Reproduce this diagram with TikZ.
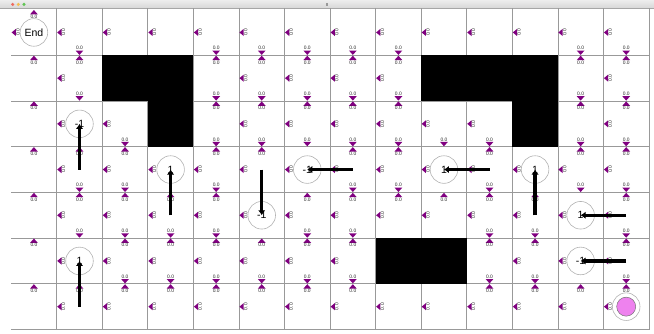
\documentclass[tikz,border=0pt]{standalone}
\usepackage{fontspec}
\setmainfont{Liberation Sans}
\usetikzlibrary{arrows.meta}
\definecolor{actpurple}{HTML}{800080}
\definecolor{agentpink}{HTML}{EE82EE}
\definecolor{tlred}{HTML}{EE6A5F}
\definecolor{tlyellow}{HTML}{F5BD4F}
\definecolor{tlgreen}{HTML}{61C454}
\begin{document}
\begin{tikzpicture}[x=1pt,y=-1pt,
  gridline/.style={draw=black!40, line width=0.7pt},
  wall/.style={fill=black},
  act/.style={fill=actpurple},
  qval/.style={font=\fontsize{4.9}{5}\selectfont, text=black!85, inner sep=0pt, outer sep=0pt},
  statecirc/.style={circle, draw=black!30, line width=0.6pt, minimum size=27.6pt, inner sep=0pt, font=\fontsize{10.5}{12}\selectfont},
  policy/.style={line width=3.4pt, -{Latex[length=5pt,width=7.5pt]}},
  tldot/.style={circle, inner sep=0pt, minimum size=3.4pt},
]
\useasboundingbox (0,0) rectangle (654,333);
\def\cw{45.56}\def\ch{45.7}\def\xo{11.14}\def\yo{9.6}

% window title bar
\shade[top color=black!7, bottom color=black!16] (0,0) rectangle (654,8.4);
\draw[black!35, line width=0.5pt] (0,8.4) -- (654,8.4);
\node[tldot, fill=tlred] (tl1) at (12.7,4.4) {};
\node[tldot, fill=tlyellow] (tl2) at (18.3,4.4) {};
\node[tldot, fill=tlgreen] (tl3) at (24.0,4.4) {};
\fill[black!40] (325.8,2.6) rectangle (328.2,6.0);

% cell centres
\foreach \c in {0,...,13}{
  \foreach \r in {0,...,6}{
    \pgfmathsetmacro\cx{\xo+\cw*(\c+0.5)}
    \pgfmathsetmacro\cy{\yo+\ch*(\r+0.5)}
    \coordinate (cell-\c-\r) at (\cx,\cy);
  }
}

% grid lines
\foreach \k in {1,...,14}{
  \draw[gridline] ({\xo+\cw*\k},8.4) -- ({\xo+\cw*\k},{\yo+\ch*7});
}
\foreach \k in {1,...,7}{
  \draw[gridline] (\xo,{\yo+\ch*\k}) -- ({\xo+\cw*14},{\yo+\ch*\k});
}

% walls
\foreach \c/\r in {2/1,3/1,3/2,9/1,10/1,11/1,11/2,8/5,9/5}{
  \fill[wall] ({\xo+\cw*\c},{\yo+\ch*\r}) rectangle ++(\cw,\ch);
}

% left action markers
\foreach \r/\cols in {0/{0,1,2,3,4,5,6,7,8,9,10,11,12,13},1/{1,5,6,7,8,13},2/{1,2,5,6,7,8,9,10,13},3/{1,2,3,4,5,6,7,8,9,10,11,12,13},4/{1,2,3,4,5,6,7,8,9,10,11,12,13},5/{1,2,3,4,5,6,7,11,12,13},6/{1,2,3,4,5,6,7,8,9,10,11,12,13}}{
  \foreach \c in \cols {
    \pgfmathsetmacro\xl{\xo+\cw*\c}
    \pgfmathsetmacro\yc{\yo+\ch*(\r+0.5)}
    \fill[act] ({\xl+0.5},\yc) -- ({\xl+4.8},{\yc-3.6}) -- ({\xl+4.8},{\yc+3.6}) -- cycle;
    \node[qval, rotate=90] (ql-\c-\r) at ({\xl+6.7},\yc) {0.0};
  }
}

% up action markers
\foreach \r/\cols in {0/{0},1/{0,1,4,5,6,7,8,12,13},2/{0,4,5,6,7,8,12,13},3/{0,1,2,4,5,7,8,10,12,13},4/{0,1,2,3,4,6,7,8,9,10,11,13},5/{0,2,3,4,5,6,7,10,11,13},6/{0,1,2,3,4,5,6,7,10,11,12,13}}{
  \foreach \c in \cols {
    \pgfmathsetmacro\xc{\xo+\cw*(\c+0.5)}
    \pgfmathsetmacro\yt{\yo+\ch*\r}
    \fill[act] (\xc,{\yt+0.4}) -- ({\xc-3.9},{\yt+4.8}) -- ({\xc+3.9},{\yt+4.8}) -- cycle;
    \node[qval] (qu-\c-\r) at (\xc,{\yt+7.2}) {0.0};
  }
}

% down action markers
\foreach \r/\cols in {0/{1,4,5,6,7,8,12,13},1/{1,4,5,6,7,8,12,13},2/{2,4,5,6,7,8,9,10,12,13},3/{1,2,4,7,8,10,12,13},4/{1,2,3,4,6,7,10,11,13},5/{2,3,4,5,6,7,10,11,13}}{
  \foreach \c in \cols {
    \pgfmathsetmacro\xc{\xo+\cw*(\c+0.5)}
    \pgfmathsetmacro\yb{\yo+\ch*(\r+1)}
    \fill[act] (\xc,{\yb-0.4}) -- ({\xc-3.9},{\yb-4.8}) -- ({\xc+3.9},{\yb-4.8}) -- cycle;
    \node[qval] (qd-\c-\r) at (\xc,{\yb-7.2}) {0.0};
  }
}

% special states
\node[statecirc] (end) at (cell-0-0) {End};
\node[statecirc] (s12) at (cell-1-2) {-1};
\node[statecirc] (s33) at (cell-3-3) {1};
\node[statecirc] (s54) at (cell-5-4) {-1};
\node[statecirc] (s63) at (cell-6-3) {-1};
\node[statecirc] (s93) at (cell-9-3) {1};
\node[statecirc] (s113) at (cell-11-3) {1};
\node[statecirc] (s124) at (cell-12-4) {1};
\node[statecirc] (s125) at (cell-12-5) {-1};
\node[statecirc] (s15) at (cell-1-5) {1};

% agent
\node[statecirc] (agentring) at (cell-13-6) {};
\node[circle, fill=agentpink, draw=black!55, line width=0.5pt, minimum size=19pt, inner sep=0pt] (agent) at (cell-13-6) {};

% policy arrows
\draw[policy] (cell-1-3) -- (cell-1-2);
\draw[policy] (cell-3-4) -- (cell-3-3);
\draw[policy] (cell-5-3) -- (cell-5-4);
\draw[policy] (cell-7-3) -- (cell-6-3);
\draw[policy] (cell-10-3) -- (cell-9-3);
\draw[policy] (cell-11-4) -- (cell-11-3);
\draw[policy] (cell-13-4) -- (cell-12-4);
\draw[policy] (cell-13-5) -- (cell-12-5);
\draw[policy] (cell-1-6) -- (cell-1-5);
\end{tikzpicture}
\end{document}
